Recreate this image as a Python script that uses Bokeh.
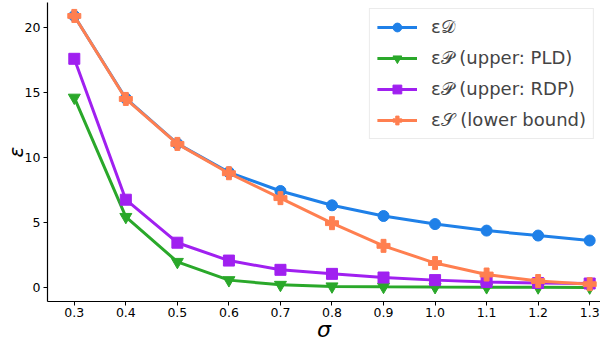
from bokeh.plotting import figure
from bokeh.models import FixedTicker, Range1d, Legend, LegendItem
from bokeh.embed import file_html
from bokeh.resources import INLINE

sigma = [0.3, 0.4, 0.5, 0.6, 0.7, 0.8, 0.9, 1.0, 1.1, 1.2, 1.3]
x_tick_labels = ["0.3", "0.4", "0.5", "0.6", "0.7", "0.8", "0.9", "1.0", "1.1", "1.2", "1.3"]
y_ticks = [0, 5, 10, 15, 20]

eps_D = [20.87, 14.54, 11.07, 8.87, 7.44, 6.34, 5.52, 4.90, 4.40, 4.02, 3.64]
eps_P_pld = [14.6, 5.45, 2.0, 0.6, 0.24, 0.12, 0.09, 0.07, 0.06, 0.05, 0.04]
eps_P_rdp = [17.58, 6.77, 3.47, 2.10, 1.39, 1.08, 0.80, 0.60, 0.46, 0.38, 0.34]
eps_S = [20.87, 14.50, 11.05, 8.80, 6.89, 4.97, 3.23, 1.91, 1.03, 0.53, 0.29]

labels = ["ε𝒟", "ε𝒫 (upper: PLD)", "ε𝒫 (upper: RDP)", "ε𝒮 (lower bound)"]
colors = ["#1f80e8", "#2aa82a", "#a020f0", "#ff7f50"]
x_label = "σ"
y_label = "ε"

FONT = "DejaVu Sans"

p = figure(width=600, height=344, output_backend="svg", toolbar_location=None,
           x_range=Range1d(0.248, 1.321), y_range=Range1d(-1.04, 21.9),
           min_border_left=0, min_border_right=0, min_border_top=2, min_border_bottom=0)
p.outline_line_color = None
p.grid.visible = False
p.background_fill_color = "white"

items = []
r = p.line(sigma, eps_D, line_color=colors[0], line_width=3)
s = p.scatter(sigma, eps_D, marker="circle", size=11, fill_color=colors[0], line_color=colors[0])
items.append(LegendItem(label=labels[0], renderers=[r, s]))

r = p.line(sigma, eps_P_pld, line_color=colors[1], line_width=3)
s = p.scatter(sigma, eps_P_pld, marker="inverted_triangle", size=12, fill_color=colors[1], line_color=colors[1])
items.append(LegendItem(label=labels[1], renderers=[r, s]))

r = p.line(sigma, eps_P_rdp, line_color=colors[2], line_width=3)
s = p.scatter(sigma, eps_P_rdp, marker="square", size=11, fill_color=colors[2], line_color=colors[2])
items.append(LegendItem(label=labels[2], renderers=[r, s]))

r = p.line(sigma, eps_S, line_color=colors[3], line_width=3)
s = p.scatter(sigma, eps_S, marker="plus", size=13, fill_color=colors[3], line_color=colors[3], line_width=1)
items.append(LegendItem(label=labels[3], renderers=[r, s]))

legend = Legend(items=items, location="top_right")
legend.label_text_font = FONT
legend.label_text_font_size = "18px"
legend.glyph_width = 40
legend.glyph_height = 22
legend.label_height = 22
legend.label_standoff = 14
legend.spacing = 9
legend.padding = 7
legend.margin = 6
legend.border_line_color = "#d8d8d8"
legend.border_line_width = 1
legend.background_fill_alpha = 0.9
p.add_layout(legend)

p.xaxis.ticker = FixedTicker(ticks=sigma)
p.xaxis.major_label_overrides = {v: t for v, t in zip(sigma, x_tick_labels)}
p.yaxis.ticker = FixedTicker(ticks=y_ticks)

for ax in (p.xaxis, p.yaxis):
    ax.axis_line_color = "black"
    ax.axis_line_width = 1.2
    ax.major_tick_line_color = "black"
    ax.major_tick_out = 4
    ax.major_tick_in = 0
    ax.minor_tick_line_color = None
    ax.major_label_text_font = FONT
    ax.major_label_text_font_size = "12.5px"
    ax.major_label_text_color = "black"
    ax.axis_label_text_font = FONT
    ax.axis_label_text_font_style = "italic"
    ax.axis_label_text_color = "black"
p.xaxis.axis_label_text_font_size = "22px"
p.yaxis.axis_label_text_font_size = "20px"
p.xaxis.major_label_standoff = 2
p.yaxis.major_label_standoff = 3
p.xaxis.axis_label = x_label
p.yaxis.axis_label = y_label
p.xaxis.axis_label_standoff = -3
p.yaxis.axis_label_standoff = -6

open("out.html", "w").write(file_html(p, INLINE))
